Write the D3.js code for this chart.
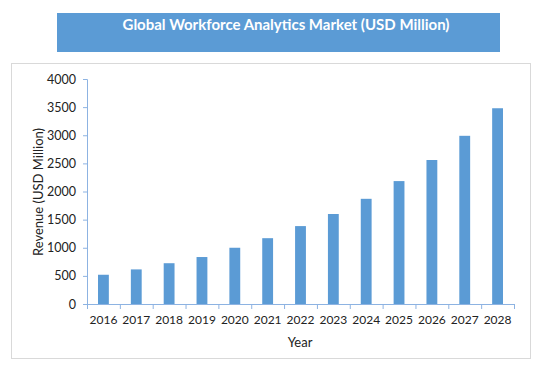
<!DOCTYPE html>
<html><head><meta charset="utf-8">
<script src="https://cdn.jsdelivr.net/npm/d3@7"></script>
<style>body{margin:0;background:#fff}svg{display:block}</style>
</head><body>
<script>
const years = ["2016","2017","2018","2019","2020","2021","2022","2023","2024","2025","2026","2027","2028"];
const revenue = [520, 615, 725, 835, 1000, 1170, 1385, 1600, 1870, 2185, 2560, 2990, 3480];
const yTicks = [0,500,1000,1500,2000,2500,3000,3500,4000];
const title = "Global Workforce Analytics Market (USD Million)";
const yTitle = "Revenue (USD Million)";
const xTitle = "Year";

const W = 548, H = 389;
const svg = d3.select("body").append("svg").attr("width", W).attr("height", H);
const font = "Lato, 'Open Sans', 'Liberation Sans', sans-serif";

// title box
svg.append("rect").attr("x",57).attr("y",13).attr("width",443).attr("height",39).attr("fill","#5b9bd5");
svg.append("text").attr("x",286).attr("y",29.5).attr("text-anchor","middle")
  .attr("font-family",font).attr("font-weight","bold").attr("font-size",15).attr("fill","#fff").text(title);

// chart border
svg.append("rect").attr("x",11.5).attr("y",63.5).attr("width",519).attr("height",295)
  .attr("fill","#fff").attr("stroke","#d9d9d9");

const x = d3.scaleBand().domain(years).range([87,514]).paddingInner(0.67).paddingOuter(0.335);
const xb = d3.scaleBand().domain(years).range([87,514]);
const y = d3.scaleLinear().domain([0,4000]).range([304,79]);

svg.append("g").selectAll("rect").data(years).join("rect")
  .attr("x", d => x(d)).attr("width", x.bandwidth())
  .attr("y", (d,i) => y(revenue[i])).attr("height", (d,i) => y(0) - y(revenue[i]))
  .attr("fill","#5b9bd5");

const axisColor = "#8db3e2";
// y axis
const ya = svg.append("g").attr("transform","translate(87,0)")
  .call(d3.axisLeft(y).tickValues(yTicks).tickFormat(d3.format("d")).tickSize(4).tickPadding(7));
ya.select(".domain").attr("stroke",axisColor);
ya.selectAll(".tick line").attr("stroke",axisColor);
ya.selectAll("text").attr("font-family",font).attr("font-size",12.5).attr("fill","#222");

// x axis
const xa = svg.append("g").attr("transform","translate(0,304)")
  .call(d3.axisBottom(xb).tickSize(0).tickPadding(11));
xa.select(".domain").attr("stroke",axisColor).attr("d","M87,0.5H514");
xa.selectAll("text").attr("font-family",font).attr("font-size",12).attr("fill","#222");
svg.append("g").selectAll("line").data(years.concat(["end"])).join("line")
  .attr("x1",(d,i)=> 87 + i*xb.step()+0.5).attr("x2",(d,i)=> 87 + i*xb.step()+0.5)
  .attr("y1",304).attr("y2",309).attr("stroke",axisColor);

svg.append("text").attr("transform","translate(43,192) rotate(-90)").attr("text-anchor","middle")
  .attr("font-family",font).attr("font-size",13).attr("fill","#222").text(yTitle);
svg.append("text").attr("x",300).attr("y",347).attr("text-anchor","middle")
  .attr("font-family",font).attr("font-size",13).attr("fill","#222").text(xTitle);
</script>
</body></html>
